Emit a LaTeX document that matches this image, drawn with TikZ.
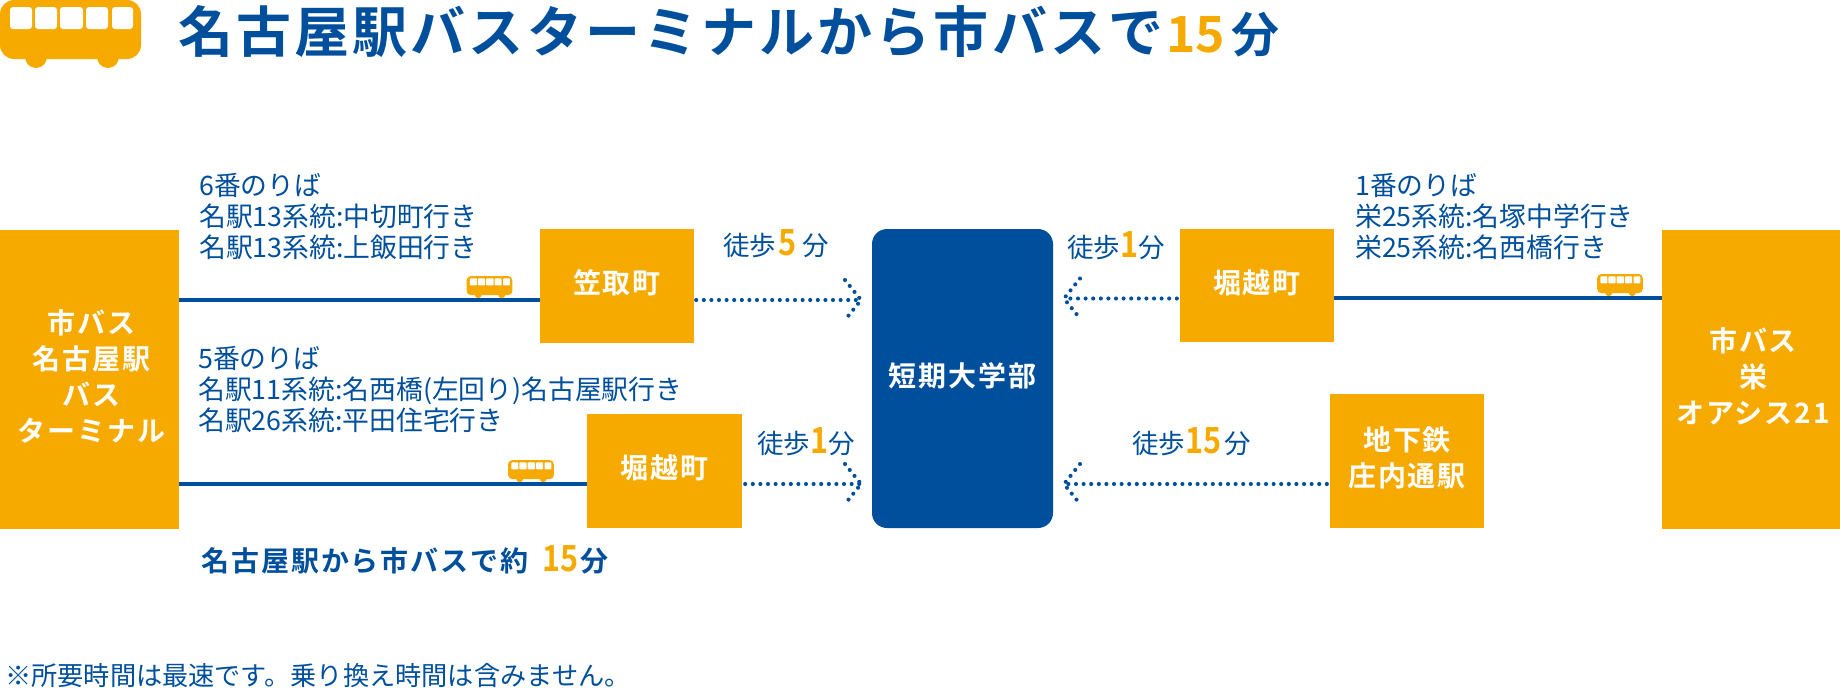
\documentclass[tikz,border=0pt]{standalone}
\usepackage{fontspec}
\usetikzlibrary{calc}
\newfontfamily\jpr{Noto Sans CJK JP}
\newfontfamily\jpb{Noto Sans CJK JP Bold}
\newfontfamily\jpbox[LetterSpace=7]{Noto Sans CJK JP Bold}
\newfontfamily\jptitle[LetterSpace=5.7]{Noto Sans CJK JP Bold}
\definecolor{busorange}{HTML}{F6AA00}
\definecolor{busblue}{HTML}{004F9C}
\newcommand{\fsz}[2]{\fontsize{#1}{#2}\selectfont}
\newcommand{\hl}[2]{{\color{busorange}\jpb\fsz{#1}{#1}\scalebox{0.85}[1]{#2}}}
\newcommand{\boxlift}{\rule[-8.5pt]{0pt}{0pt}}
\newcommand{\ind}{\hspace*{4pt}}
\tikzset{
  x=1pt,y=-1pt,
  stopbox/.style={fill=busorange,text=white,inner sep=0pt,align=center,font=\jpbox\fsz{28}{36}},
  hub/.style={fill=busblue,text=white,inner sep=0pt,rounded corners=15pt,align=center,font=\jpbox\fsz{28}{36}},
  busline/.style={draw=busblue,line width=4.6pt},
  walk/.style={draw=busblue,line width=4.1pt,line cap=round,dash pattern=on 0pt off 7.6pt},
  note/.style={text=busblue,inner sep=0pt,anchor=west,align=left,font=\jpr\fsz{26.8}{31}},
  walklabel/.style={text=busblue,inner sep=0pt,anchor=west,font=\jpr\fsz{26.5}{30}},
  pics/bus/.style={code={
    \begin{scope}[scale=#1]
      \fill[busorange] (36,57) circle[radius=11];
      \fill[busorange] (108,57) circle[radius=11];
      \fill[busorange,rounded corners=14pt*#1] (0,0) rectangle (141,59);
      \foreach \wx/\wr in {10/32,35/57,60/83,86/108,112/133}
        \fill[white,rounded corners=3pt*#1] (\wx,7) rectangle (\wr,29);
    \end{scope}
  }}
}
\begin{document}
\begin{tikzpicture}
\useasboundingbox (0,0) rectangle (1840,688);
% boxes
\node[stopbox,minimum width=179pt,minimum height=299pt] (nagoya) at (89.5,379.5) {\ind 市バス\\\ind 名古屋駅\\\ind バス\\\ind ターミナル\boxlift};
\node[stopbox,minimum width=154pt,minimum height=114pt] (kasa) at (617,286) {笠取町\boxlift};
\node[stopbox,minimum width=155pt,minimum height=114pt] (horiL) at (664.5,471) {堀越町\boxlift};
\node[hub,minimum width=181pt,minimum height=299pt] (univ) at (962.5,378.5) {短期大学部\boxlift};
\node[stopbox,minimum width=154pt,minimum height=113pt] (horiR) at (1257,285.5) {堀越町\boxlift};
\node[stopbox,minimum width=154pt,minimum height=134pt] (subway) at (1407,461) {地下鉄\\庄内通駅\boxlift};
\node[stopbox,minimum width=178pt,minimum height=299pt] (sakae) at (1751,379.5) {\ind 市バス\\\ind 栄\\\ind オアシス21\boxlift};
% bus lines
\draw[busline] ([yshift=-14pt]kasa.west) -- ([yshift=-14pt]kasa.west -| nagoya.east);
\draw[busline] ([yshift=-13pt]horiL.west) -- ([yshift=-13pt]horiL.west -| nagoya.east);
\draw[busline] ([yshift=-12.5pt]horiR.east) -- ([yshift=-12.5pt]horiR.east -| sakae.west);
% walking connectors
\coordinate (t1) at (861,300);
\coordinate (t2) at (861,484);
\coordinate (t3) at (1064,298.5);
\coordinate (t4) at (1064,484);
\draw[walk] ([xshift=2pt,yshift=-14pt]kasa.east) -- (t1);
\draw[walk] ([xshift=3pt,yshift=-13pt]horiL.east) -- (t2);
\draw[walk] ([xshift=-3pt,yshift=-13pt]horiR.west) -- (t3);
\draw[walk] ([xshift=-3pt,yshift=-23pt]subway.west) -- (t4);
\draw[walk] ($(t1)+(-16,-20)$) -- (t1) -- ($(t1)+(-16,20)$);
\draw[walk] ($(t2)+(-16,-20)$) -- (t2) -- ($(t2)+(-16,20)$);
\draw[walk] ($(t3)+(16,-20)$) -- (t3) -- ($(t3)+(16,20)$);
\draw[walk] ($(t4)+(16,-20)$) -- (t4) -- ($(t4)+(16,20)$);
% bus icons
\pic at (0,0) {bus=1};
\pic at (466.5,276) {bus=0.326};
\pic at (508,460) {bus=0.326};
\pic at (1597,274) {bus=0.326};
% title
\node[text=busblue,inner sep=0pt,anchor=west,font=\jptitle\fsz{55}{60}] (title) at (178,32)
  {名古屋駅バスターミナルから市バスで\hspace{3pt}{\color{busorange}\jpb\fsz{50}{60}15}\hspace{6pt}{\fsz{48}{60}分}};
% notes
\node[note] (n1) at (199,217) {6番のりば\\名駅13系統:中切町行き\\名駅13系統:上飯田行き};
\node[note] (n2) at (198,390) {5番のりば\\名駅11系統:名西橋(左回り)名古屋駅行き\\名駅26系統:平田住宅行き};
\node[note] (n3) at (1355,217) {1番のりば\\栄25系統:名塚中学行き\\栄25系統:名西橋行き};
% walking labels
\node[walklabel] (w1) at (723,244) {徒歩\hspace{2pt}\hl{36}{5}\hspace{6pt}分};
\node[walklabel] (w2) at (1067,246) {徒歩\hl{36}{1}分};
\node[walklabel] (w3) at (757,442) {徒歩\hl{36}{1}分};
\node[walklabel] (w4) at (1132,442) {徒歩\hl{36}{15}\hspace{3pt}分};
% bottom texts
\node[text=busblue,inner sep=0pt,anchor=west,font=\jpbox\fsz{28}{30}] (sum) at (201,560)
  {名古屋駅から市バスで約\hspace{14pt}\hl{36}{15}\hspace{2pt}分};
\node[text=busblue,inner sep=0pt,anchor=west,font=\jpr\fsz{26.2}{28}] (foot) at (5,676)
  {※所要時間は最速です。乗り換え時間は含みません。};
\end{tikzpicture}
\end{document}
